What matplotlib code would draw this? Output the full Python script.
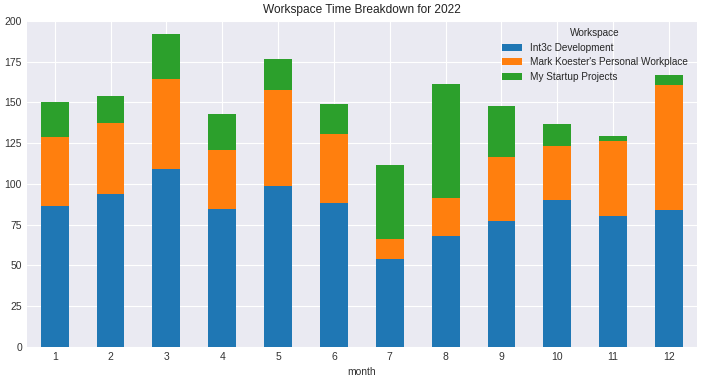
import matplotlib
matplotlib.use("Agg")
import matplotlib.pyplot as plt
import numpy as np

months = [1, 2, 3, 4, 5, 6, 7, 8, 9, 10, 11, 12]
series_names = ["Int3c Development", "Mark Koester's Personal Workplace", "My Startup Projects"]
int3c = [86.6, 93.6, 108.9, 84.7, 98.5, 88.4, 53.7, 68.0, 77.3, 90.3, 80.4, 84.1]
personal = [42.1, 43.8, 55.7, 36.0, 59.3, 42.1, 12.4, 23.5, 39.0, 32.8, 45.8, 76.8]
startup = [21.7, 16.7, 27.3, 22.3, 18.6, 18.6, 45.8, 70.0, 31.6, 13.7, 3.2, 6.2]
colors = ["#1f77b4", "#ff7f0e", "#2ca02c"]

plt.style.use("seaborn-v0_8-darkgrid")
plt.rcParams['font.family'] = ['Liberation Sans', 'DejaVu Sans']

fig, ax = plt.subplots(figsize=(7.04, 3.8), dpi=100)
fig.subplots_adjust(left=0.038, right=0.990, top=0.945, bottom=0.087)

x = np.arange(len(months))
bottom = np.zeros(len(months))
for name, vals, c in zip(series_names, [int3c, personal, startup], colors):
    ax.bar(x, vals, width=0.5, bottom=bottom, color=c, label=name)
    bottom += np.array(vals)

ax.set_xticks(x)
ax.set_xticklabels([str(m) for m in months])
ax.set_xlim(-0.5, len(months) - 0.5)
ax.set_ylim(0, 200)
ax.set_yticks(np.arange(0, 201, 25))
ax.tick_params(labelsize=7.5, colors="#333333")
ax.set_xlabel("month", fontsize=7.5, color="#333333")
ax.set_title("Workspace Time Breakdown for 2022", fontsize=8.6, color="#222222")
leg = ax.legend(title="Workspace", loc="upper right", fontsize=7.2, title_fontsize=7.2,
                bbox_to_anchor=(1.0, 1.005), labelspacing=0.45)

fig.savefig("out.png", dpi=100)
